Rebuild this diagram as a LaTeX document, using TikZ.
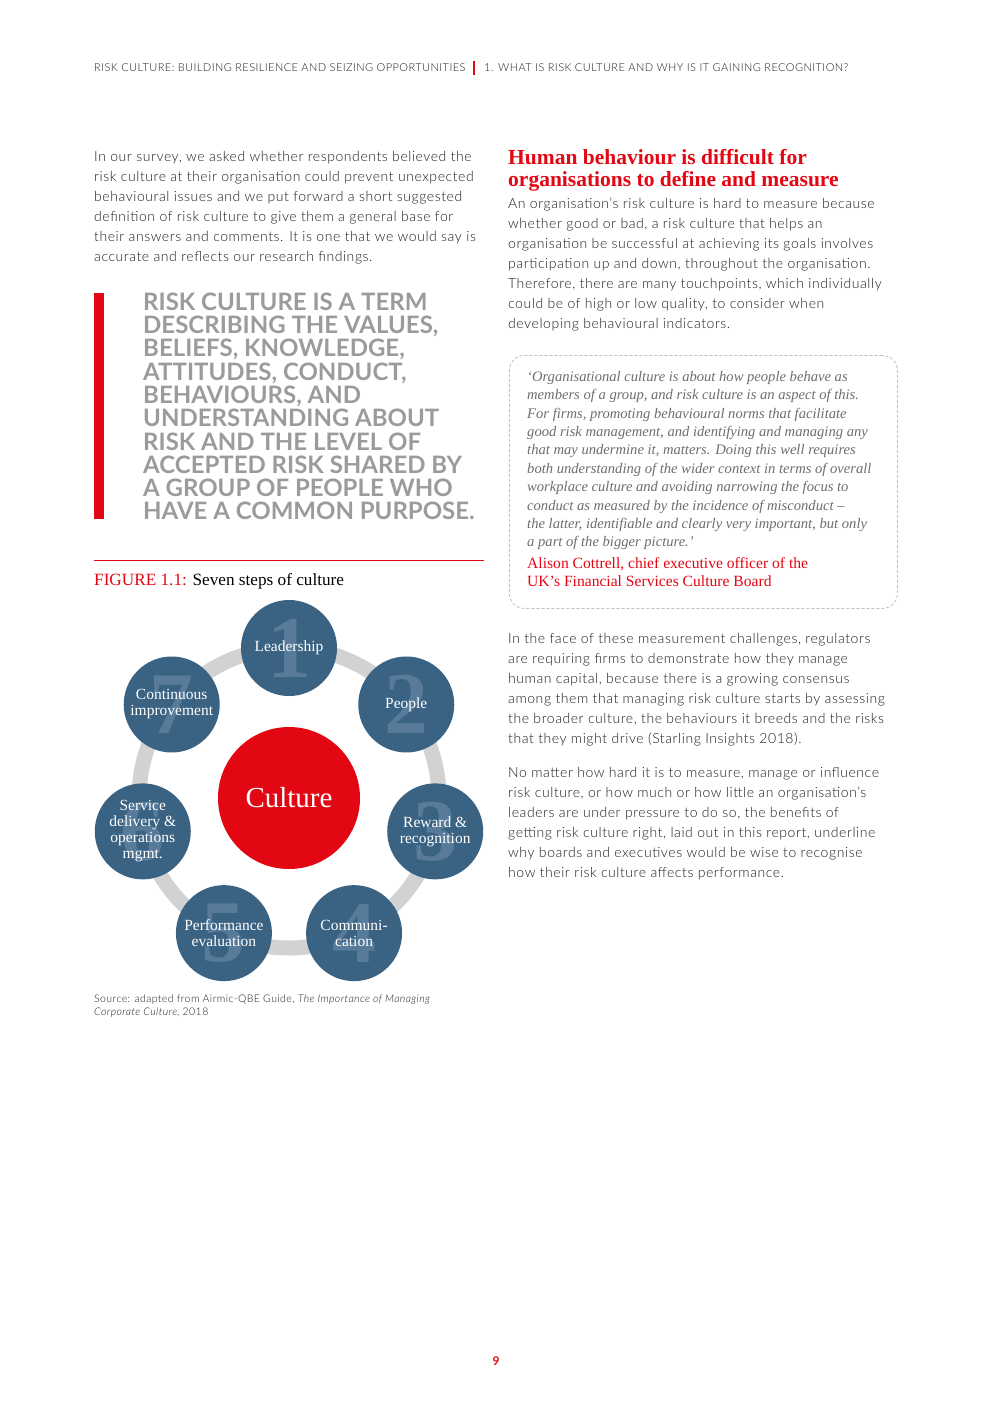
\documentclass[tikz,border=0pt]{standalone}
\usepackage{fontspec}
\usepackage{tikz}
\usetikzlibrary{positioning}
\newfontfamily\bodyface{Lato Light}[LetterSpace=4]
\newfontfamily\pullface{Lato}
\newfontfamily\serifface{Liberation Serif}
\definecolor{riskred}{HTML}{E30613}
\definecolor{stepblue}{HTML}{3A6282}
\definecolor{stepnum}{HTML}{587B99}
\definecolor{ringgrey}{HTML}{D2D2D2}
\definecolor{pullgrey}{HTML}{9B9B9B}
\definecolor{quotegrey}{HTML}{6E6E6E}
\definecolor{bodyblack}{HTML}{1E1E1E}

\begin{document}
\begin{tikzpicture}
	[x=1pt, y=-1pt, inner sep=0pt,
	body/.style		= {anchor=north west, align=left, text=bodyblack, font=\bodyface\fontsize{14}{20}\selectfont},
	header/.style	= {anchor=north west, text=bodyblack, font=\bodyface\fontsize{11}{12}\selectfont},
	headline/.style	= {anchor=north west, align=left, text=riskred, font=\serifface\bfseries\fontsize{21.5}{22}\selectfont},
	pull/.style		= {anchor=north west, align=left, text=pullgrey, font=\pullface\bfseries\fontsize{24}{23.3}\selectfont},
	quotebox/.style	= {anchor=north west, draw=black!25, dashed, dash pattern=on 3pt off 2pt, line width=0.8pt, rounded corners=15pt, minimum width=388pt, minimum height=253pt},
	quote/.style	= {anchor=north west, align=left, text=quotegrey, font=\serifface\itshape\fontsize{14.6}{18.4}\selectfont},
	attrib/.style	= {anchor=north west, align=left, text=riskred, font=\serifface\fontsize{15.6}{18}\selectfont},
	caption/.style	= {anchor=north west, font=\serifface\fontsize{17.2}{18}\selectfont},
	source/.style	= {anchor=north west, align=left, text=bodyblack, font=\bodyface\fontsize{10.5}{13}\selectfont},
	culture/.style	= {circle, fill=riskred, minimum size=142pt, text=white, font=\serifface\fontsize{29}{29}\selectfont},
	ring/.style		= {draw=ringgrey, line width=15pt},
	stepdisc/.style	= {circle, fill=stepblue, minimum size=96pt},
	stepno/.style	= {text=stepnum, font=\serifface\bfseries\fontsize{88}{88}\selectfont},
	steptext/.style	= {align=center, text=white, font=\serifface\fontsize{15.5}{16}\selectfont}]
	
	\useasboundingbox [fill=white] (0,0) rectangle (992,1403);
	
	% running head
	\node at (94,63.5)		[header]	(head1)	{RISK CULTURE: BUILDING RESILIENCE AND SEIZING OPPORTUNITIES};
	\node at (484,63.5)		[header]	(head2)	{1. WHAT IS RISK CULTURE AND WHY IS IT GAINING RECOGNITION?};
	\draw [riskred, line width=1.3pt] (474,61) -- (474,75);
	
	% left column
	\node at (94,151)	[body]	(intro)	{In our survey, we asked whether respondents believed the\\
		risk culture at their organisation could prevent unexpected\\
		behavioural issues and we put forward a short suggested\\
		definition of risk culture to give them a general base for\\
		their answers and comments. It is one that we would say is\\
		accurate and reflects our research findings.};
	
	\fill [riskred] (94,293) rectangle (104,519);
	\node at (143,292.5)	[pull]	(pullq)	{RISK CULTURE IS A TERM\\
		DESCRIBING THE VALUES,\\
		BELIEFS, KNOWLEDGE,\\
		ATTITUDES, CONDUCT,\\
		BEHAVIOURS, AND\\
		UNDERSTANDING ABOUT\\
		RISK AND THE LEVEL OF\\
		ACCEPTED RISK SHARED BY\\
		A GROUP OF PEOPLE WHO\\
		HAVE A COMMON PURPOSE.};
	
	\draw [riskred, line width=1pt] (94,560.5) -- (484,560.5);
	\node at (94,573)	[caption]	(figcap)	{\textcolor{riskred}{FIGURE 1.1:} Seven steps of culture};
	
	% seven steps
	\node at (289,798)	[culture]	(culture)	{Culture};
	\draw [ring] (culture.center) circle (150);
	\foreach \i/\txt [evaluate=\i as \ang using -90+360/7*(\i-1)] in
		{1/Leadership, 2/People, 3/{Reward \&\\recognition}, 4/{Communi-\\cation},
		 5/{Performance\\evaluation}, 6/{Service\\delivery \&\\operations\\mgmt.}, 7/{Continuous\\improvement}} {
		\node at ([shift={(\ang:150)}]culture.center)	[stepdisc]	(s\i)	{};
		\node at (s\i)	[stepno]	(n\i)	{\i};
		\node at (s\i)	[steptext]	(t\i)	{\txt};
	}
	
	\node at (94,995)	[source]	(src)	{Source: adapted from Airmic-QBE Guide, \textit{The Importance of Managing}\\
		\textit{Corporate Culture}, 2018};
	
	% right column
	\node at (508,149.5)	[headline]	(hl)	{Human behaviour is difficult for\\
		organisations to define and measure};
	\node at (508,198)	[body]	(para1)	{An organisation’s risk culture is hard to measure because\\
		whether good or bad, a risk culture that helps an\\
		organisation be successful at achieving its goals involves\\
		participation up and down, throughout the organisation.\\
		Therefore, there are many touchpoints, which individually\\
		could be of high or low quality, to consider when\\
		developing behavioural indicators.};
	
	\node at (509,355)	[quotebox]	(qbox)	{};
	\node at (527,371)	[quote]		(qtext)	{‘Organisational culture is about how people behave as\\
		members of a group, and risk culture is an aspect of this.\\
		For firms, promoting behavioural norms that facilitate\\
		good risk management, and identifying and managing any\\
		that may undermine it, matters. Doing this well requires\\
		both understanding of the wider context in terms of overall\\
		workplace culture and avoiding narrowing the focus to\\
		conduct as measured by the incidence of misconduct –\\
		the latter, identifiable and clearly very important, but only\\
		a part of the bigger picture.’};
	\node [attrib, below=7pt of qtext.south west, anchor=north west]	(qwho)	{Alison Cottrell, chief executive officer of the\\
		UK’s Financial Services Culture Board};
	
	\node at (508,633)	[body]	(para2)	{In the face of these measurement challenges, regulators\\
		are requiring firms to demonstrate how they manage\\
		human capital, because there is a growing consensus\\
		among them that managing risk culture starts by assessing\\
		the broader culture, the behaviours it breeds and the risks\\
		that they might drive (Starling Insights 2018).};
	\node at (508,767)	[body]	(para3)	{No matter how hard it is to measure, manage or influence\\
		risk culture, or how much or how little an organisation’s\\
		leaders are under pressure to do so, the benefits of\\
		getting risk culture right, laid out in this report, underline\\
		why boards and executives would be wise to recognise\\
		how their risk culture affects performance.};
	
	\node at (496,1361)	[text=riskred, font=\pullface\bfseries\fontsize{12}{12}\selectfont]	(pageno)	{9};
\end{tikzpicture}
\end{document}
